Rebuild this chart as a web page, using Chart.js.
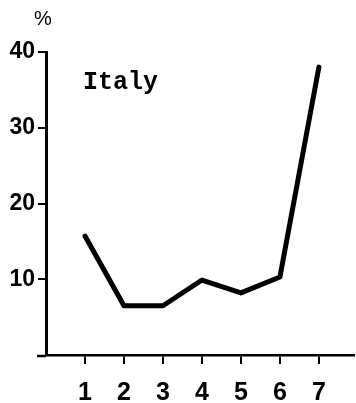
<!DOCTYPE html>
<html>
<head>
<meta charset="utf-8">
<script src="https://cdn.jsdelivr.net/npm/chart.js@4/dist/chart.umd.min.js"></script>
<style>
  html, body { margin: 0; padding: 0; background: #fff; }
  #wrap { width: 356px; height: 403px; }
</style>
</head>
<body>
<div id="wrap"><canvas id="c" width="356" height="403"></canvas></div>
<script>
// Series: percentage by category, Italy
const categories = [1, 2, 3, 4, 5, 6, 7];
const values = [15.7, 6.5, 6.5, 9.9, 8.2, 10.3, 38.0];
const yTicks = [10, 20, 30, 40];
const seriesLabel = 'Italy';
const unitLabel = '%';

const points = categories.map((c, i) => ({ x: c, y: values[i] }));

// Extra annotations: the series name inside the plot and the unit above the axis
const annotate = {
  id: 'annotate',
  afterDraw(chart) {
    const { ctx, chartArea } = chart;
    ctx.save();
    ctx.fillStyle = '#000';
    ctx.textBaseline = 'alphabetic';
    // short stub of the baseline left of the vertical axis
    ctx.strokeStyle = '#000';
    ctx.lineWidth = 2.5;
    ctx.beginPath();
    ctx.moveTo(chartArea.left - 9, chartArea.bottom + 1);
    ctx.lineTo(chartArea.left, chartArea.bottom + 1);
    ctx.stroke();

    ctx.font = 'bold 25px "Liberation Mono"';
    ctx.textAlign = 'left';
    ctx.fillText(seriesLabel, 83, 89);

    ctx.font = '20px "Liberation Sans"';
    ctx.textAlign = 'center';
    ctx.fillText(unitLabel, 43, 25);
    ctx.restore();
  }
};

new Chart(document.getElementById('c'), {
  type: 'line',
  data: {
    datasets: [{
      data: points,
      borderColor: '#000',
      borderWidth: 5,
      pointRadius: 0,
      tension: 0,
      borderJoinStyle: 'round',
      borderCapStyle: 'round',
      fill: false
    }]
  },
  options: {
    responsive: false,
    devicePixelRatio: 1,
    animation: false,
    layout: { padding: { top: 52, right: 2, bottom: 0, left: 0 } },
    plugins: { legend: { display: false }, tooltip: { enabled: false } },
    scales: {
      x: {
        type: 'linear',
        min: 0,
        max: 7.9,
        afterFit(scale) { scale.height = 48; },
        afterBuildTicks(scale) {
          scale.ticks = categories.map(v => ({ value: v }));
        },
        ticks: {
          color: '#000',
          padding: 14,
          font: { family: '"Liberation Sans"', weight: 'bold', size: 25 },
          callback: v => String(v)
        },
        grid: {
          drawOnChartArea: false,
          drawTicks: true,
          tickLength: 9,
          color: '#000',
          lineWidth: 2
        },
        border: { display: true, color: '#000', width: 2.5 }
      },
      y: {
        min: 0,
        max: 40,
        afterFit(scale) { scale.width = 46; },
        afterBuildTicks(scale) {
          scale.ticks = yTicks.map(v => ({ value: v }));
        },
        ticks: {
          color: '#000',
          padding: 3,
          font: { family: '"Liberation Sans"', weight: 'bold', size: 23 },
          callback: v => String(v)
        },
        grid: {
          drawOnChartArea: false,
          drawTicks: true,
          tickLength: 8,
          color: '#000',
          lineWidth: 2
        },
        border: { display: true, color: '#000', width: 3 }
      }
    }
  },
  plugins: [annotate]
});
</script>
</body>
</html>
